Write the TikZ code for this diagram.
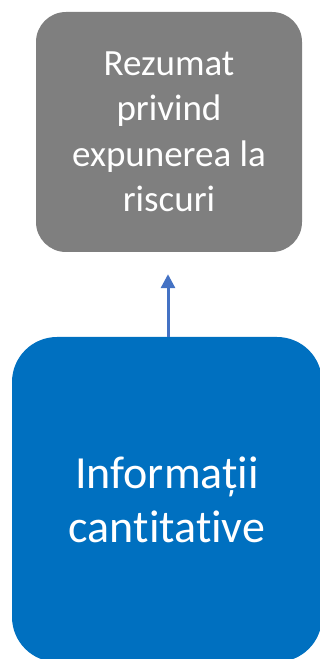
\documentclass[tikz,border=0pt]{standalone}
\usepackage{fontspec}
\setmainfont[Ligatures={NoCommon}]{Carlito}
\usetikzlibrary{arrows.meta}
\definecolor{graybox}{HTML}{7F7F7F}
\definecolor{bluebox}{HTML}{0070C0}
\definecolor{arrowblue}{HTML}{4472C4}
\begin{document}
\begin{tikzpicture}[x=1pt,y=1pt,
  summarybox/.style={fill=graybox, draw=none, rounded corners=30pt, text=white,
    minimum width=266pt, minimum height=240pt, align=center,
    font=\fontsize{37}{45.5}\selectfont, inner sep=0pt},
  infobox/.style={fill=bluebox, draw=none, rounded corners=45pt, text=white,
    minimum width=310pt, minimum height=325pt, align=center,
    font=\fontsize{46}{54}\selectfont, inner sep=0pt},
  connector/.style={draw=arrowblue, line width=3pt,
    -{Triangle[length=14pt,width=14pt]}}]
\useasboundingbox (0,0) rectangle (320,659);
\clip (0,0) rectangle (320,659);
\node[summarybox] (sum) at (169,527) {Rezumat\\privind\\expunerea la\\riscuri};
\node[infobox] (info) at (167,159.5) {Informații\\cantitative};
\draw[connector, shorten >=22pt] (info.north -| 168,0) -- (sum.south -| 168,0);
\end{tikzpicture}
\end{document}
